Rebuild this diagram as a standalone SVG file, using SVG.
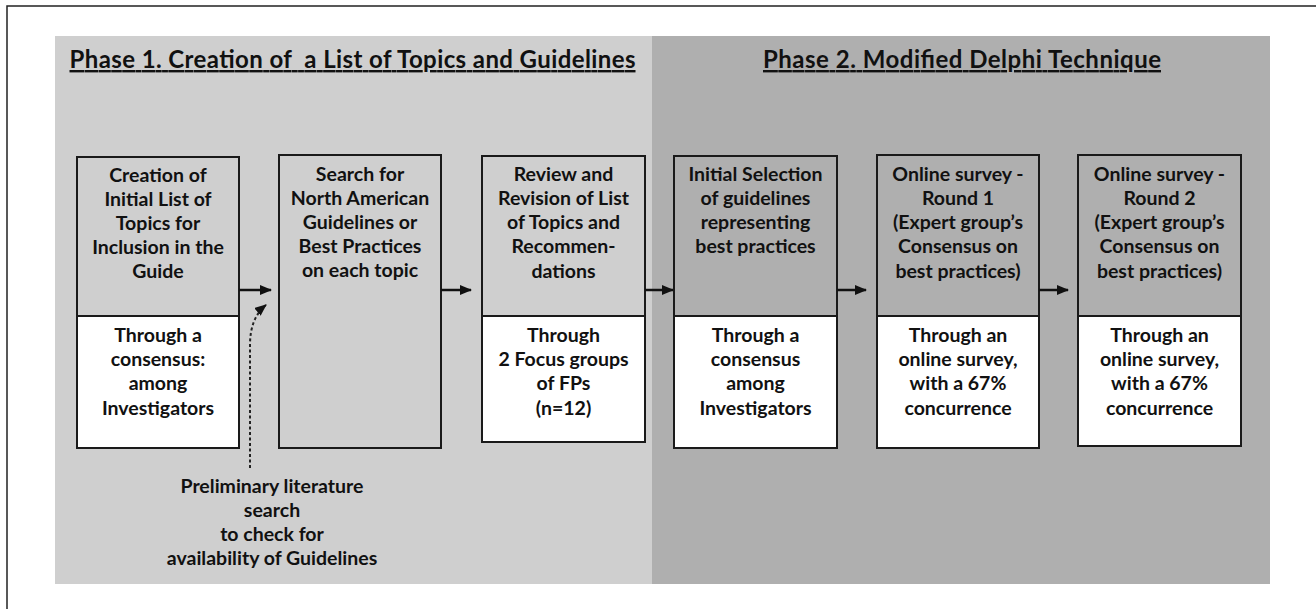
<svg xmlns="http://www.w3.org/2000/svg" width="1316" height="609" viewBox="0 0 1316 609">
<defs>
<style>
.t{font-family:Lato,"Open Sans","DejaVu Sans",sans-serif;font-weight:700;font-size:19.5px;fill:#111;text-anchor:middle}
.title{font-family:Lato,"Open Sans","DejaVu Sans",sans-serif;font-weight:700;font-size:24px;fill:#111;text-decoration:underline;white-space:pre}
.frame{stroke:#222;stroke-width:1.5;fill:none}
.g1{fill:#cfcfcf}
.g2{fill:#afafaf}
.w{fill:#ffffff}
.ol{fill:none;stroke:#1a1a1a;stroke-width:2}
.arrow{stroke:#111;stroke-width:2.5;fill:none;marker-end:url(#ah)}
.dash{stroke:#222;stroke-width:2;stroke-dasharray:3 2.5;fill:none;marker-end:url(#ah)}
</style>
<marker id="ah" markerUnits="userSpaceOnUse" viewBox="0 0 12 10" refX="11" refY="5" markerWidth="12" markerHeight="10" orient="auto">
<path d="M0,0 L12,5 L0,10 z" fill="#111"/>
</marker>
</defs>
<path class="frame" d="M7,609 V6 H1316"/>
<g id="phase1-panel">
<rect class="g1" x="55" y="36" width="597" height="548"/>
<text class="title" x="69.5" y="68" textLength="566" lengthAdjust="spacing" xml:space="preserve">Phase 1. Creation of  a List of Topics and Guidelines</text>
</g>
<g id="phase2-panel">
<rect class="g2" x="652" y="36" width="618" height="548"/>
<text class="title" x="763" y="68" textLength="398" lengthAdjust="spacing">Phase 2. Modified Delphi Technique</text>
</g>
<g id="node1">
<rect class="g1" x="77" y="157" width="162" height="159"/>
<rect class="w" x="77" y="316" width="162" height="132"/>
<rect class="ol" x="77" y="157" width="162" height="291"/>
<line class="ol" x1="77" y1="316" x2="239" y2="316"/>
<text class="t" x="158" y="182">Creation of</text>
<text class="t" x="158" y="206">Initial List of</text>
<text class="t" x="158" y="230">Topics for</text>
<text class="t" x="158" y="254">Inclusion in the</text>
<text class="t" x="158" y="278">Guide</text>
<text class="t" x="158" y="342">Through a</text>
<text class="t" x="158" y="366">consensus:</text>
<text class="t" x="158" y="390">among</text>
<text class="t" x="158" y="415">Investigators</text>
</g>
<g id="node2">
<rect class="g1" x="279" y="155" width="162" height="293"/>
<rect class="ol" x="279" y="155" width="162" height="293"/>
<text class="t" x="360" y="181">Search for</text>
<text class="t" x="360" y="205">North American</text>
<text class="t" x="360" y="229">Guidelines or</text>
<text class="t" x="360" y="253">Best Practices</text>
<text class="t" x="360" y="277">on each topic</text>
</g>
<g id="node3">
<rect class="g1" x="482" y="156" width="163" height="160"/>
<rect class="w" x="482" y="316" width="163" height="126"/>
<rect class="ol" x="482" y="156" width="163" height="286"/>
<line class="ol" x1="482" y1="316" x2="645" y2="316"/>
<text class="t" x="563.5" y="181">Review and</text>
<text class="t" x="563.5" y="205">Revision of List</text>
<text class="t" x="563.5" y="229">of Topics and</text>
<text class="t" x="563.5" y="253">Recommen-</text>
<text class="t" x="563.5" y="278">dations</text>
<text class="t" x="563.5" y="342">Through</text>
<text class="t" x="563.5" y="366">2 Focus groups</text>
<text class="t" x="563.5" y="390">of FPs</text>
<text class="t" x="563.5" y="415">(n=12)</text>
</g>
<g id="node4">
<rect class="g2" x="674" y="156" width="163" height="160"/>
<rect class="w" x="674" y="316" width="163" height="132"/>
<rect class="ol" x="674" y="156" width="163" height="292"/>
<line class="ol" x1="674" y1="316" x2="837" y2="316"/>
<text class="t" x="755.5" y="181">Initial Selection</text>
<text class="t" x="755.5" y="205">of guidelines</text>
<text class="t" x="755.5" y="229">representing</text>
<text class="t" x="755.5" y="253">best practices</text>
<text class="t" x="755.5" y="342">Through a</text>
<text class="t" x="755.5" y="366">consensus</text>
<text class="t" x="755.5" y="390">among</text>
<text class="t" x="755.5" y="415">Investigators</text>
</g>
<g id="node5">
<rect class="g2" x="877" y="155" width="162" height="161"/>
<rect class="w" x="877" y="316" width="162" height="132"/>
<rect class="ol" x="877" y="155" width="162" height="293"/>
<line class="ol" x1="877" y1="316" x2="1039" y2="316"/>
<text class="t" x="958" y="181">Online survey -</text>
<text class="t" x="958" y="205">Round 1</text>
<text class="t" x="958" y="229">(Expert group’s</text>
<text class="t" x="958" y="253">Consensus on</text>
<text class="t" x="958" y="278">best practices)</text>
<text class="t" x="958" y="342">Through an</text>
<text class="t" x="958" y="366">online survey,</text>
<text class="t" x="958" y="390">with a 67%</text>
<text class="t" x="958" y="415">concurrence</text>
</g>
<g id="node6">
<rect class="g2" x="1078" y="155" width="163" height="161"/>
<rect class="w" x="1078" y="316" width="163" height="130"/>
<rect class="ol" x="1078" y="155" width="163" height="291"/>
<line class="ol" x1="1078" y1="316" x2="1241" y2="316"/>
<text class="t" x="1159.5" y="181">Online survey -</text>
<text class="t" x="1159.5" y="205">Round 2</text>
<text class="t" x="1159.5" y="229">(Expert group’s</text>
<text class="t" x="1159.5" y="253">Consensus on</text>
<text class="t" x="1159.5" y="278">best practices)</text>
<text class="t" x="1159.5" y="342">Through an</text>
<text class="t" x="1159.5" y="366">online survey,</text>
<text class="t" x="1159.5" y="390">with a 67%</text>
<text class="t" x="1159.5" y="415">concurrence</text>
</g>
<g id="note">
<text class="t" x="272" y="493">Preliminary literature</text>
<text class="t" x="272" y="517">search</text>
<text class="t" x="272" y="541">to check for</text>
<text class="t" x="272" y="565">availability of Guidelines</text>
</g>
<g id="connectors">
<path class="arrow" d="M239,290 H271"/>
<path class="arrow" d="M441,290 H471"/>
<path class="arrow" d="M645,290 H673"/>
<path class="arrow" d="M837,290 H866"/>
<path class="arrow" d="M1039,290 H1068"/>
<path class="dash" d="M250,468 V345 Q250,318 266,305"/>
</g>
</svg>
